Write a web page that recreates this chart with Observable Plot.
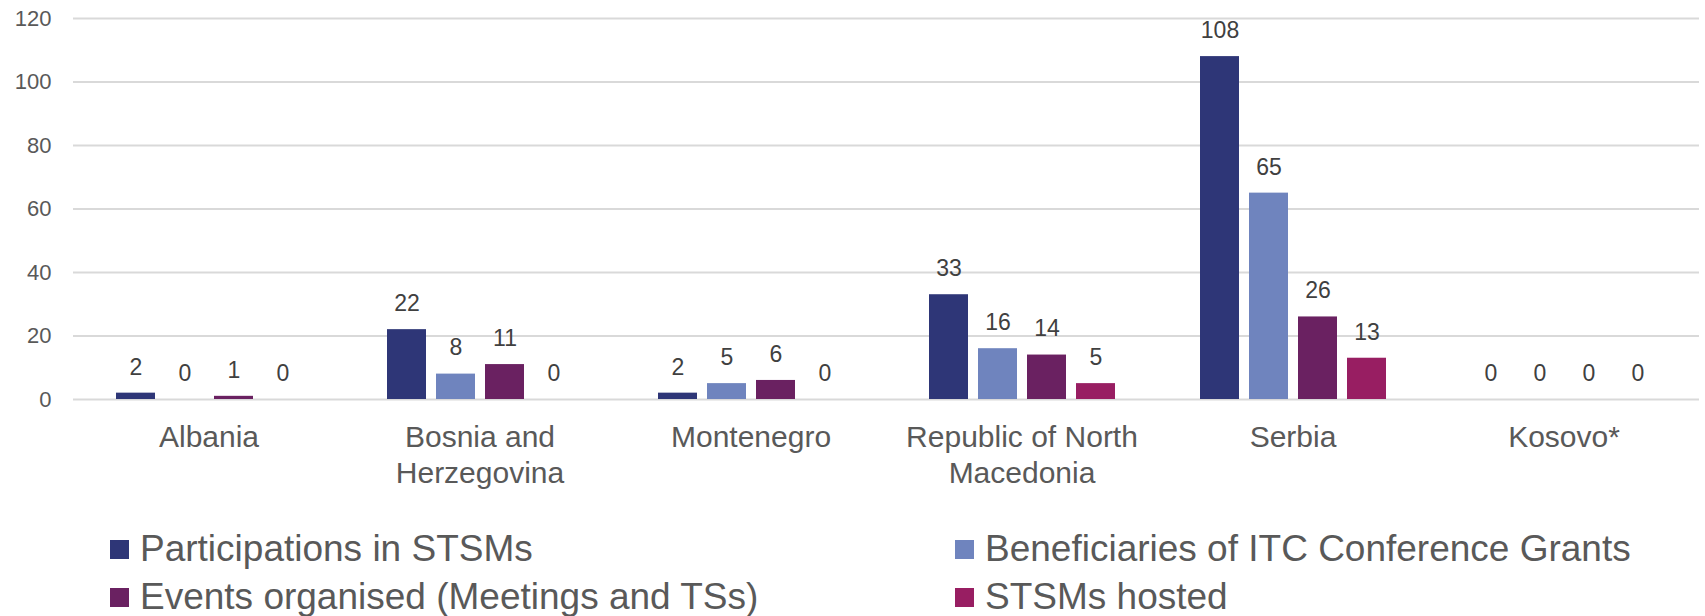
<!DOCTYPE html>
<html>
<head>
<meta charset="utf-8">
<script src="https://cdn.jsdelivr.net/npm/d3@7"></script>
<script src="https://cdn.jsdelivr.net/npm/@observablehq/plot@0.6"></script>
<style>
  html, body { margin: 0; padding: 0; background: #fff; }
  #wrap { position: relative; width: 1705px; height: 616px; font-family: "Liberation Sans", Arial, sans-serif; }
  #legend { position: absolute; left: 0; top: 0; width: 1705px; height: 616px; pointer-events: none; }
  .item { position: absolute; display: flex; align-items: center; height: 44px; font-size: 37px; color: #595959; white-space: nowrap; }
  .sw { width: 19px; height: 19px; margin-right: 11px; flex: none; }
</style>
</head>
<body>
<div id="wrap"><div id="chart"></div><div id="legend"></div></div>
<script>
const countries = ["Albania", "Bosnia and Herzegovina", "Montenegro", "Republic of North Macedonia", "Serbia", "Kosovo*"];
const countryLabels = ["Albania", "Bosnia and\nHerzegovina", "Montenegro", "Republic of North\nMacedonia", "Serbia", "Kosovo*"];
const seriesNames = ["Participations in STSMs", "Beneficiaries of ITC Conference Grants", "Events organised (Meetings and TSs)", "STSMs hosted"];
const seriesColors = ["#2E3677", "#6F84BE", "#6A2161", "#981E62"];
const participations = [2, 22, 2, 33, 108, 0];
const beneficiaries = [0, 8, 5, 16, 65, 0];
const events = [1, 11, 6, 14, 26, 0];
const hosted = [0, 0, 0, 5, 13, 0];
const yTicks = [0, 20, 40, 60, 80, 100, 120];

const seriesValues = [participations, beneficiaries, events, hosted];
const data = [];
countries.forEach((c, i) => {
  seriesNames.forEach((s, j) => data.push({country: c, series: s, value: seriesValues[j][i]}));
});
const labelOf = new Map(countries.map((c, i) => [c, countryLabels[i]]));

const chart = Plot.plot({
  width: 1705,
  height: 490,
  marginLeft: 71,
  marginRight: 5,
  marginTop: 18,
  marginBottom: 91,
  style: {fontFamily: "'Liberation Sans', Arial, sans-serif", background: "#fff"},
  fx: {domain: countries, padding: 0, label: null},
  x: {domain: seriesNames, paddingInner: 0.21, paddingOuter: 0.85, axis: null},
  y: {domain: [0, 120], axis: null},
  color: {domain: seriesNames, range: seriesColors},
  marks: [
    Plot.ruleY(yTicks, {stroke: "#D9D9D9", strokeWidth: 2}),
    Plot.barY(data, {fx: "country", x: "series", y: "value", fill: "series"}),
    Plot.text(data, {fx: "country", x: "series", y: "value", text: d => String(d.value), dy: -26, fontSize: 23, fill: "#404040"}),
    Plot.axisY(yTicks, {tickSize: 0, tickPadding: 22, fontSize: 22, color: "#595959", label: null}),
    Plot.axisFx({anchor: "bottom", tickSize: 0, tickPadding: 22, fontSize: 30, lineHeight: 1.2, color: "#595959", label: null, tickFormat: d => labelOf.get(d)})
  ]
});
document.getElementById("chart").appendChild(chart);

const legendPos = [[110, 549], [955, 549], [110, 597], [955, 597]];
const legend = document.getElementById("legend");
seriesNames.forEach((s, i) => {
  const it = document.createElement("div");
  it.className = "item";
  it.style.left = legendPos[i][0] + "px";
  it.style.top = (legendPos[i][1] - 22) + "px";
  const sw = document.createElement("span");
  sw.className = "sw";
  sw.style.background = seriesColors[i];
  const tx = document.createElement("span");
  tx.textContent = s;
  it.appendChild(sw); it.appendChild(tx);
  legend.appendChild(it);
});
</script>
</body>
</html>
